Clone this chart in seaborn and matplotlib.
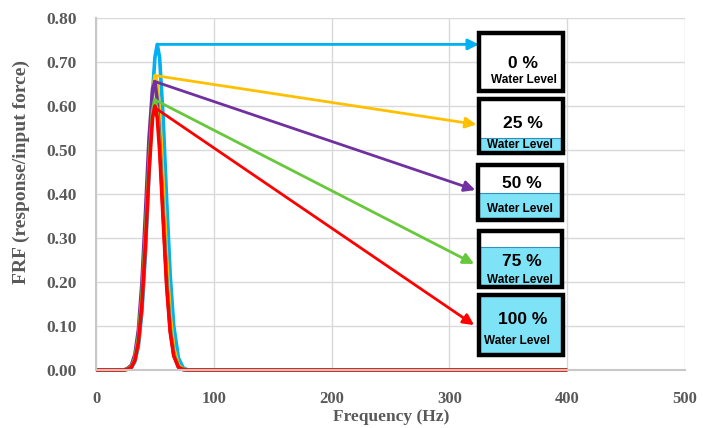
import matplotlib
matplotlib.use("Agg")
import matplotlib.pyplot as plt
from matplotlib.patches import Rectangle
import numpy as np
import pandas as pd
import seaborn as sns

# ---- data ----
freq = [0, 24, 27, 30, 33, 36, 39, 42, 45, 48, 50, 52, 54, 57, 60, 63, 66, 70, 74, 78, 400]
frf_0 = [0, 0, 0.002, 0.005, 0.019, 0.054, 0.132, 0.267, 0.449, 0.629, 0.710, 0.740, 0.710, 0.573, 0.385, 0.215, 0.100, 0.027, 0.005, 0, 0]
frf_25 = [0, 0, 0.002, 0.007, 0.024, 0.069, 0.160, 0.307, 0.483, 0.626, 0.669, 0.654, 0.587, 0.424, 0.252, 0.124, 0.050, 0.011, 0.002, 0, 0]
frf_50 = [0, 0, 0.004, 0.011, 0.035, 0.091, 0.199, 0.357, 0.526, 0.639, 0.655, 0.612, 0.526, 0.357, 0.199, 0.091, 0.035, 0.007, 0.001, 0, 0]
frf_75 = [0, 0, 0.003, 0.008, 0.027, 0.074, 0.166, 0.308, 0.469, 0.589, 0.615, 0.589, 0.517, 0.362, 0.209, 0.099, 0.039, 0.008, 0.001, 0, 0]
frf_100 = [0, 0, 0.002, 0.006, 0.022, 0.063, 0.149, 0.287, 0.450, 0.573, 0.600, 0.573, 0.499, 0.342, 0.190, 0.086, 0.032, 0.006, 0.001, 0, 0]

levels = ["0 %", "25 %", "50 %", "75 %", "100 %"]
colors = ["#00B0F0", "#FFC000", "#7030A0", "#66C83A", "#FF0000"]

# arrow starts (peak) and ends (boxes)
arrow_x0 = [52, 50.5, 49.5, 50, 50]
arrow_y0 = [0.740, 0.669, 0.656, 0.614, 0.596]
arrow_x1 = [325, 323, 322, 321, 321]
arrow_y1 = [0.740, 0.558, 0.409, 0.241, 0.102]

x_ticks = [0, 100, 200, 300, 400, 500]
y_ticks = [0.0, 0.1, 0.2, 0.3, 0.4, 0.5, 0.6, 0.7, 0.8]

# ---- build frame ----
series = [frf_0, frf_25, frf_50, frf_75, frf_100]
df = pd.concat([pd.DataFrame({"Frequency": freq, "FRF": s, "Level": lv})
                for s, lv in zip(series, levels)], ignore_index=True)

sns.set_theme(style="whitegrid")
plt.rcParams["font.family"] = ["Liberation Serif", "DejaVu Serif"]

W, H = 703, 428
fig = plt.figure(figsize=(W / 100, H / 100), dpi=100)
ax = fig.add_axes([96 / W, 1 - 370 / H, (685 - 96) / W, (370 - 18) / H])

sns.lineplot(data=df, x="Frequency", y="FRF", hue="Level", hue_order=levels,
             palette=colors, linewidth=2.6, legend=False, ax=ax, sort=False,
             estimator=None)
for ln in ax.get_lines():
    ln.set_clip_on(False)
    ln.set_solid_joinstyle("round")
    ln.set_solid_capstyle("butt")

ax.set_xlim(0, 500)
ax.set_ylim(0, 0.8)
ax.set_xticks(x_ticks)
ax.set_yticks(y_ticks)
ax.set_yticklabels([f"{v:.2f}" for v in y_ticks])
ax.grid(True, color="#D9D9D9", linewidth=1.0)
for sp in ["top", "right"]:
    ax.spines[sp].set_visible(False)
for sp in ["left", "bottom"]:
    ax.spines[sp].set_color("#C8C8C8")
    ax.spines[sp].set_linewidth(1.5)
ax.tick_params(axis="x", length=0, pad=15, labelsize=12, labelcolor="#595959")
ax.tick_params(axis="y", length=0, pad=14, labelsize=12.5, labelcolor="#595959")
for lab in ax.get_xticklabels() + ax.get_yticklabels():
    lab.set_fontweight("bold")
ax.set_xlabel("")
ax.set_ylabel("")
fig.text(391 / W, 1 - 417 / H, "Frequency (Hz)", ha="center", va="center",
         fontsize=12.5, fontweight="bold", color="#595959")
fig.text(21 / W, 1 - 172 / H, "FRF (response/input force)", ha="center", va="center",
         rotation=90, fontsize=14, fontweight="bold", color="#595959")

# arrows
for x0, y0, x1, y1, c in zip(arrow_x0, arrow_y0, arrow_x1, arrow_y1, colors):
    ax.annotate("", xy=(x1, y1), xytext=(x0, y0),
                arrowprops=dict(arrowstyle="-|>", color=c, lw=2, mutation_scale=16,
                                shrinkA=0, shrinkB=0), zorder=5)

# water-level boxes (positioned in pixel units converted to data coords)
def px2x(px):
    return (px - 96) / ((685 - 96) / 500)

def py2y(py):
    return (370 - py) / (352 / 0.8)

boxes_px = [(479, 563, 33, 91), (479, 563, 99, 153), (478, 562, 165, 220),
            (479, 562, 231, 287), (479, 563, 295, 355)]
fill_top_px = [None, 138, 193, 247, 295]
num_y_px = [63, 123, 183, 262, 319]
wl_y_px = [80, 145, 209, 280, 341]
num_x_px = [523, 523, 522, 522, 523]
wl_x_px = [524, 520, 520, 520, 517]

for i, (l, r, t, b) in enumerate(boxes_px):
    x0, x1 = px2x(l), px2x(r)
    y0, y1 = py2y(b), py2y(t)
    ax.add_patch(Rectangle((x0, y0), x1 - x0, y1 - y0, facecolor="white",
                           edgecolor="none", zorder=6, clip_on=False))
    if fill_top_px[i] is not None:
        ft = py2y(fill_top_px[i])
        ax.add_patch(Rectangle((x0, y0), x1 - x0, ft - y0, facecolor="#7FE3F7",
                               edgecolor="#2E8FC0", linewidth=0.8, zorder=7, clip_on=False))
    ax.add_patch(Rectangle((x0, y0), x1 - x0, y1 - y0, facecolor="none",
                           edgecolor="black", linewidth=3.2, zorder=8, clip_on=False))
    ax.text(px2x(num_x_px[i]), py2y(num_y_px[i]), levels[i], ha="center", va="center",
            fontsize=12.5, fontweight="bold", family=["Liberation Sans", "DejaVu Sans"],
            color="black", zorder=9)
    ax.text(px2x(wl_x_px[i]), py2y(wl_y_px[i]), "Water Level", ha="center", va="center",
            fontsize=8.5, fontweight="bold", family=["Liberation Sans", "DejaVu Sans"],
            color="black", zorder=9)

fig.savefig("out.png", dpi=100)
